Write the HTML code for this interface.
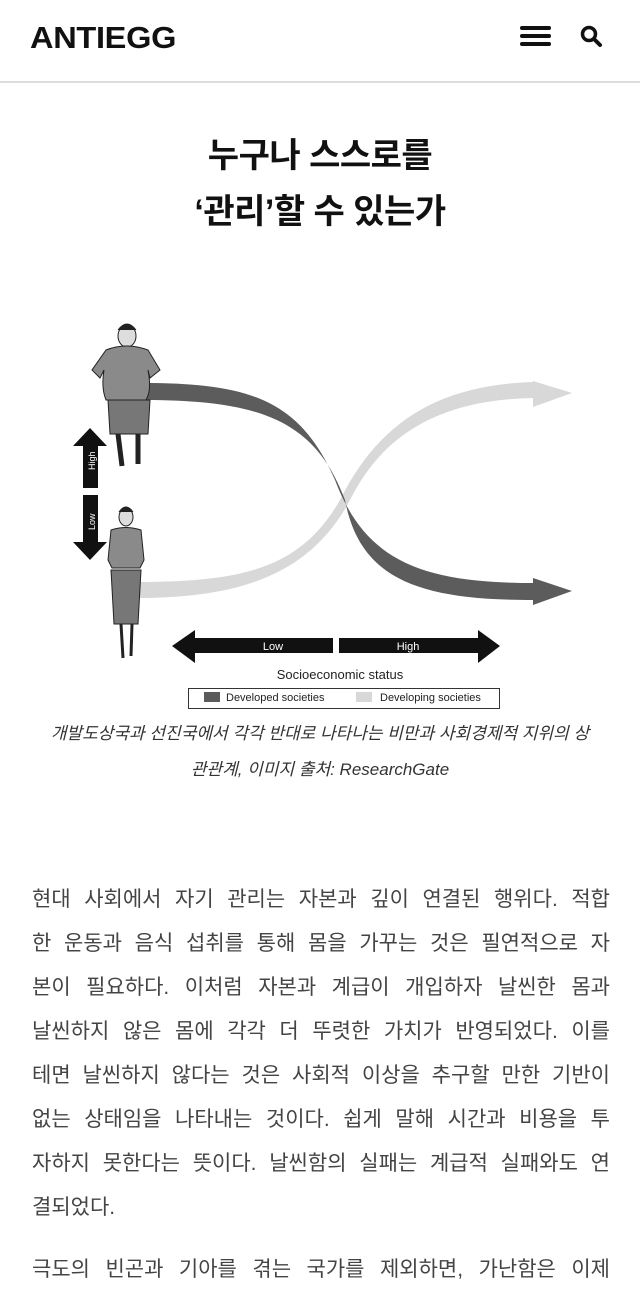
<!DOCTYPE html>
<html><head><meta charset="utf-8"><style>
*{margin:0;padding:0;box-sizing:border-box}
body{width:640px;height:1280px;overflow:hidden;background:#fff;font-family:"Liberation Sans","Noto Sans CJK KR",sans-serif;position:relative}
.hdr{height:83px;border-bottom:2px solid #ddd;position:relative}
.logo{position:absolute;left:30px;top:20px;font-size:31px;font-weight:bold;letter-spacing:-0.3px;color:#111;transform:scaleX(1.05);transform-origin:left}
.title{position:absolute;top:128px;left:0;width:640px;text-align:center;font-size:34px;font-weight:bold;line-height:56px;color:#111;letter-spacing:-0.5px}
.cap{position:absolute;top:716px;left:20px;width:600px;text-align:center;font-style:italic;font-size:17px;line-height:36px;color:#333}
.body{position:absolute;top:878px;left:32px;width:578px;font-size:21px;color:#444;line-height:44px}
.body div{text-align:justify;text-align-last:justify;white-space:nowrap}
.body div.l{text-align-last:left}
</style></head><body>
<div class="hdr">
<div class="logo">ANTIEGG</div>
<svg style="position:absolute;left:520px;top:24px" width="32" height="24"><rect x="0" y="2" width="31" height="4" rx="2" fill="#111"/><rect x="0" y="10" width="31" height="4" rx="2" fill="#111"/><rect x="0" y="18" width="31" height="4" rx="2" fill="#111"/></svg>
<svg style="position:absolute;left:580px;top:25px" width="24" height="24"><circle cx="9" cy="9" r="6.5" stroke="#111" stroke-width="3.5" fill="none"/><line x1="14" y1="14" x2="20" y2="20" stroke="#111" stroke-width="4" stroke-linecap="round"/></svg>
</div>
<div class="title">누구나 스스로를<br>‘관리’할 수 있는가</div>
<svg style="position:absolute;left:0;top:300px" width="640" height="420" viewBox="0 300 640 420">
<path d="M135 582 C240 582 300 570 340 500 C380 420 440 385 533 382 L533 398 C445 400 385 430 350 500 C310 575 240 598 135 598 Z" fill="#d8d8d8"/>
<path d="M143 383 C250 383 300 400 335 480 C365 560 420 583 533 583 L533 600 C420 600 360 580 345 500 C315 420 260 400 143 400 Z" fill="#5c5c5c"/>
<polygon points="533,578 572,591 533,605" fill="#5c5c5c"/>
<polygon points="533,381 572,393 533,407" fill="#d8d8d8"/>
<g fill="#8a8a8a" stroke="#222" stroke-width="1">
<ellipse cx="127" cy="336" rx="9" ry="11" fill="#ddd"/>
<path d="M118 330 q9 -12 18 0" fill="#222"/>
<path d="M106 350 q20 -8 42 0 l12 20 -10 8 -2 -8 q4 20 -2 30 l-40 0 q-5 -12 -2 -30 l-4 8 -8 -8z"/>
<path d="M108 400 l42 0 l-2 34 l-38 0z" fill="#777"/>
<path d="M118 434 l4 32 M138 434 l0 30" stroke="#222" stroke-width="5"/>
<ellipse cx="126" cy="517" rx="7" ry="9" fill="#ddd"/>
<path d="M119 512 q7 -10 14 0" fill="#222"/>
<path d="M111 530 q15 -5 30 0 l3 30 -4 8 -28 0 -4 -8z"/>
<path d="M111 570 l30 0 l-3 54 l-24 0z" fill="#777"/>
<path d="M121 624 l2 34 M132 624 l-1 32" stroke="#222" stroke-width="3"/>
</g>
<polygon points="90,428 107,446 98,446 98,488 83,488 83,446 73,446" fill="#111"/>
<polygon points="83,495 98,495 98,542 107,542 90,560 73,542 83,542" fill="#111"/>
<text transform="translate(95,470) rotate(-90)" fill="#fff" font-size="9">High</text>
<text transform="translate(95,530) rotate(-90)" fill="#fff" font-size="9">Low</text>
<polygon points="172,646 195,630 195,638 333,638 333,653 195,653 195,663" fill="#111"/>
<polygon points="339,638 478,638 478,630 500,646 478,663 478,653 339,653" fill="#111"/>
<text x="273" y="650" fill="#fff" font-size="11" text-anchor="middle">Low</text>
<text x="408" y="650" fill="#fff" font-size="11" text-anchor="middle">High</text>
<text x="340" y="679" fill="#222" font-size="13" text-anchor="middle">Socioeconomic status</text>
<rect x="188.5" y="688.5" width="311" height="20" fill="none" stroke="#333"/>
<rect x="204" y="692" width="16" height="10" fill="#5c5c5c"/>
<text x="226" y="701" font-size="11" fill="#222">Developed societies</text>
<rect x="356" y="692" width="16" height="10" fill="#d8d8d8"/>
<text x="380" y="701" font-size="11" fill="#222">Developing societies</text>
</svg>
<div class="cap">개발도상국과 선진국에서 각각 반대로 나타나는 비만과 사회경제적 지위의 상<br>관관계, 이미지 출처: ResearchGate</div>
<div class="body">
<div>현대 사회에서 자기 관리는 자본과 깊이 연결된 행위다. 적합</div>
<div>한 운동과 음식 섭취를 통해 몸을 가꾸는 것은 필연적으로 자</div>
<div>본이 필요하다. 이처럼 자본과 계급이 개입하자 날씬한 몸과</div>
<div>날씬하지 않은 몸에 각각 더 뚜렷한 가치가 반영되었다. 이를</div>
<div>테면 날씬하지 않다는 것은 사회적 이상을 추구할 만한 기반이</div>
<div>없는 상태임을 나타내는 것이다. 쉽게 말해 시간과 비용을 투</div>
<div>자하지 못한다는 뜻이다. 날씬함의 실패는 계급적 실패와도 연</div>
<div class="l">결되었다.</div>
<div style="margin-top:18px">극도의 빈곤과 기아를 겪는 국가를 제외하면, 가난함은 이제</div>
</div>
</body></html>
